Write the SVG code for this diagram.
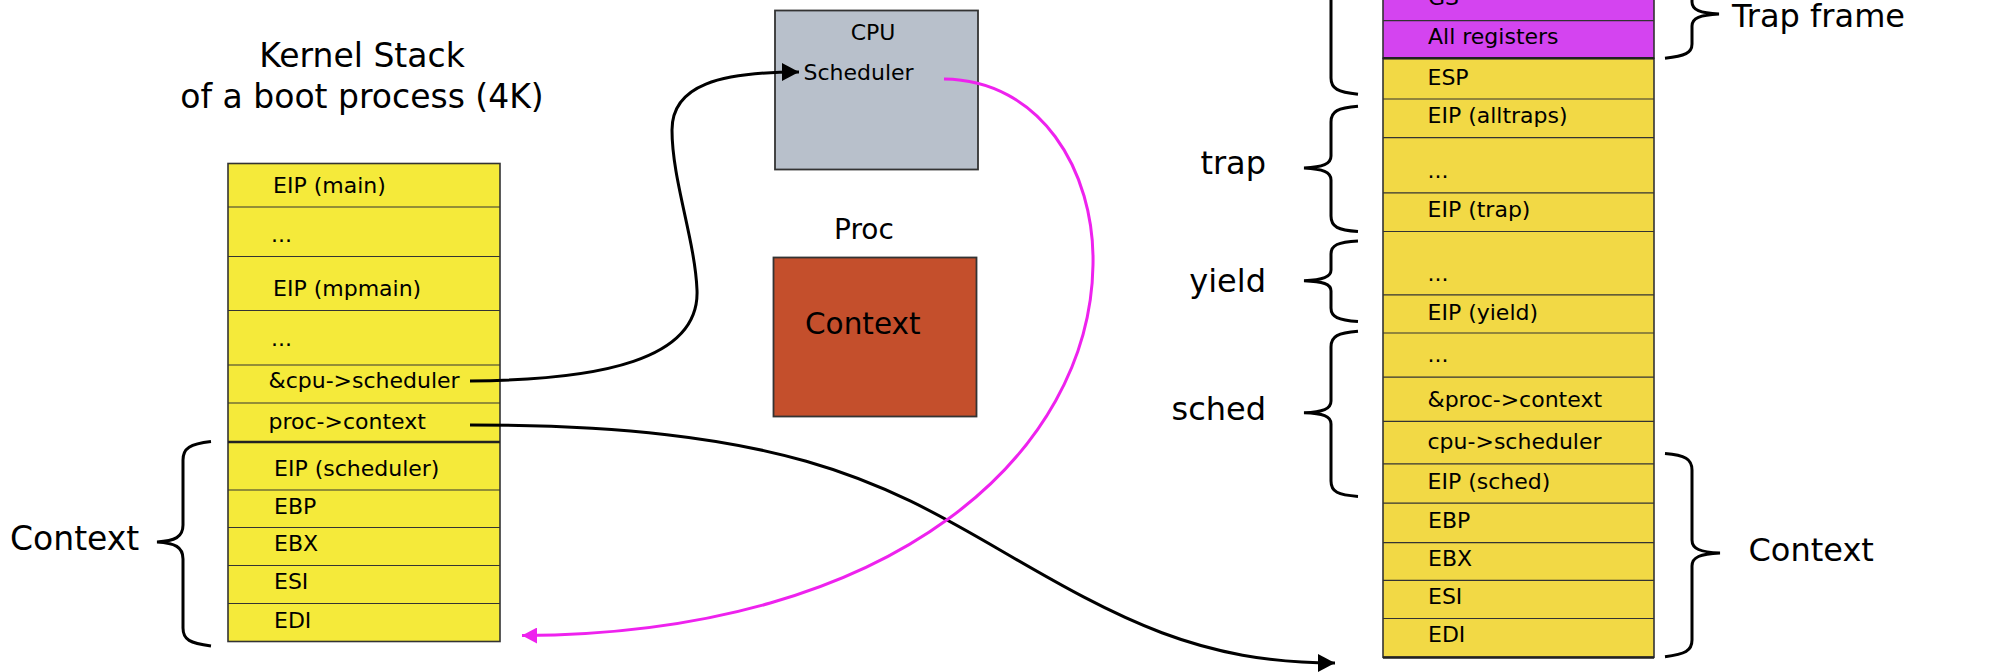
<svg xmlns="http://www.w3.org/2000/svg" width="2003" height="672" viewBox="0 0 2003 672">
<defs>
<style>
.t{font-family:"DejaVu Sans","Liberation Sans",sans-serif;fill:#000}
.s22{font-size:22px}
.big{font-size:33px}
.lab{font-size:32px}
.ys{fill:#f5ea3a;stroke:#333;stroke-width:1.6}
.yr{fill:#f2d945;stroke:#333;stroke-width:1.6}
.mg{fill:#d444f0;stroke:#333;stroke-width:1.6}
.row{stroke:#333;stroke-width:1.2}
.rowb{stroke:#222;stroke-width:2.4}
.br{fill:none;stroke:#000;stroke-width:3}
.con{fill:none;stroke:#000;stroke-width:3}
.conm{fill:none;stroke:#ee22ee;stroke-width:3}
</style>
<marker id="ab" markerUnits="userSpaceOnUse" markerWidth="18" markerHeight="18" refX="17" refY="9" orient="auto">
<path d="M0,0 L17,9 L0,18 z" fill="#000"/>
</marker>
<marker id="am" markerUnits="userSpaceOnUse" markerWidth="16" markerHeight="16" refX="15" refY="8" orient="auto">
<path d="M0,0 L15,8 L0,16 z" fill="#ee22ee"/>
</marker>
</defs>
<rect width="2003" height="672" fill="#fff"/>

<g id="title">
<text class="t big" x="362" y="67" text-anchor="middle">Kernel Stack</text>
<text class="t big" x="362" y="108" text-anchor="middle">of a boot process (4K)</text>
</g>

<g id="left-stack">
<rect class="ys" x="228" y="163.5" width="272" height="478"/>
<line class="row" x1="228" y1="207" x2="500" y2="207"/>
<line class="row" x1="228" y1="256.5" x2="500" y2="256.5"/>
<line class="row" x1="228" y1="310.5" x2="500" y2="310.5"/>
<line class="row" x1="228" y1="365" x2="500" y2="365"/>
<line class="row" x1="228" y1="403" x2="500" y2="403"/>
<line class="rowb" x1="228" y1="442" x2="500" y2="442"/>
<line class="row" x1="228" y1="490" x2="500" y2="490"/>
<line class="row" x1="228" y1="527.5" x2="500" y2="527.5"/>
<line class="row" x1="228" y1="565.5" x2="500" y2="565.5"/>
<line class="row" x1="228" y1="603.5" x2="500" y2="603.5"/>
<text class="t s22" x="273" y="193">EIP (main)</text>
<text class="t s22" x="271" y="242">...</text>
<text class="t s22" x="273" y="296">EIP (mpmain)</text>
<text class="t s22" x="271" y="346">...</text>
<text class="t s22" x="268.5" y="388">&amp;cpu-&gt;scheduler</text>
<text class="t s22" x="268.5" y="428.5">proc-&gt;context</text>
<text class="t s22" x="274" y="476">EIP (scheduler)</text>
<text class="t s22" x="274" y="513.5">EBP</text>
<text class="t s22" x="274" y="551">EBX</text>
<text class="t s22" x="274" y="589">ESI</text>
<text class="t s22" x="274" y="628">EDI</text>
</g>

<g id="left-context">
<path class="br" d="M211,441.5 C190,444 183,448 183,460 L183,525 C183,537 175,541 157,542 C175,543 183,547 183,559 L183,628 C183,640 190,643 211,646"/>
<text class="t big" x="10" y="550">Context</text>
</g>

<g id="cpu">
<rect x="775" y="10.5" width="203" height="159" fill="#b8c0cb" stroke="#333" stroke-width="1.8"/>
<text class="t s22" x="873" y="39.5" text-anchor="middle">CPU</text>
<text class="t s22" x="803.5" y="80">Scheduler</text>
</g>

<g id="proc">
<text class="t" font-size="28" x="864" y="239" text-anchor="middle">Proc</text>
<rect x="773.5" y="257.5" width="203" height="159" fill="#c44f2c" stroke="#333" stroke-width="1.8"/>
<text class="t" font-size="29.5" x="805" y="334">Context</text>
</g>

<g id="right-stack">
<rect class="mg" x="1383" y="-10" width="271" height="68.3"/>
<line class="row" x1="1383" y1="20.6" x2="1654" y2="20.6"/>
<rect class="yr" x="1383" y="58.3" width="271" height="599"/>
<line class="rowb" x1="1383" y1="58.3" x2="1654" y2="58.3"/>
<line class="row" x1="1383" y1="99" x2="1654" y2="99"/>
<line class="row" x1="1383" y1="137.6" x2="1654" y2="137.6"/>
<line class="row" x1="1383" y1="192.9" x2="1654" y2="192.9"/>
<line class="row" x1="1383" y1="231.5" x2="1654" y2="231.5"/>
<line class="row" x1="1383" y1="294.9" x2="1654" y2="294.9"/>
<line class="row" x1="1383" y1="333" x2="1654" y2="333"/>
<line class="row" x1="1383" y1="377.2" x2="1654" y2="377.2"/>
<line class="row" x1="1383" y1="421.3" x2="1654" y2="421.3"/>
<line class="row" x1="1383" y1="463.8" x2="1654" y2="463.8"/>
<line class="row" x1="1383" y1="503.2" x2="1654" y2="503.2"/>
<line class="row" x1="1383" y1="542.6" x2="1654" y2="542.6"/>
<line class="row" x1="1383" y1="580.4" x2="1654" y2="580.4"/>
<line class="row" x1="1383" y1="618.5" x2="1654" y2="618.5"/>
<line class="rowb" x1="1383" y1="657.5" x2="1654" y2="657.5"/>
<text class="t s22" x="1428" y="5">GS</text>
<text class="t s22" x="1428" y="44">All registers</text>
<text class="t s22" x="1427.5" y="84.5">ESP</text>
<text class="t s22" x="1427.5" y="123">EIP (alltraps)</text>
<text class="t s22" x="1427.5" y="178">...</text>
<text class="t s22" x="1427.5" y="216.5">EIP (trap)</text>
<text class="t s22" x="1427.5" y="281">...</text>
<text class="t s22" x="1427.5" y="319.5">EIP (yield)</text>
<text class="t s22" x="1427.5" y="362">...</text>
<text class="t s22" x="1427.5" y="407">&amp;proc-&gt;context</text>
<text class="t s22" x="1427.5" y="449">cpu-&gt;scheduler</text>
<text class="t s22" x="1427.5" y="488.5">EIP (sched)</text>
<text class="t s22" x="1428" y="528">EBP</text>
<text class="t s22" x="1428" y="566">EBX</text>
<text class="t s22" x="1428" y="603.5">ESI</text>
<text class="t s22" x="1428" y="642">EDI</text>
</g>

<g id="brace-top">
<path class="br" d="M1331,-10 L1331,78 C1331,89 1338,92 1358,94.3"/>
</g>
<g id="brace-trap">
<path class="br" d="M1358,106.3 C1338,108 1331,111 1331,122 L1331,156 C1331,164 1323,167 1304,168 C1323,169 1331,172 1331,180 L1331,216 C1331,227 1338,230 1358,231.5"/>
<text class="t lab" x="1266" y="174" text-anchor="end">trap</text>
</g>
<g id="brace-yield">
<path class="br" d="M1358,240.9 C1338,242 1331,245 1331,254 L1331,270 C1331,277 1323,280 1304,280.7 C1323,281.5 1331,284 1331,291 L1331,308 C1331,317 1338,320 1358,321.5"/>
<text class="t lab" x="1266" y="292" text-anchor="end">yield</text>
</g>
<g id="brace-sched">
<path class="br" d="M1358,331.3 C1338,333 1331,336 1331,347 L1331,401 C1331,409 1323,412 1304,412.8 C1323,413.5 1331,416 1331,424 L1331,481 C1331,492 1338,495 1358,496.4"/>
<text class="t lab" x="1266" y="420" text-anchor="end">sched</text>
</g>
<g id="brace-trapframe">
<path class="br" d="M1665,-28 C1685,-26 1692,-22 1692,-12 L1692,2 C1692,10 1700,13 1719,14 C1700,15 1692,18 1692,26 L1692,44 C1692,53 1685,56 1665,58.3"/>
<text class="t lab" x="1732" y="27">Trap frame</text>
</g>
<g id="brace-context-right">
<path class="br" d="M1665,453.5 C1685,455 1692,459 1692,470 L1692,540 C1692,549 1700,552 1720,553 C1700,554 1692,557 1692,566 L1692,640 C1692,651 1685,654 1665,656.7"/>
<text class="t lab" x="1748.5" y="561">Context</text>
</g>

<g id="connectors">
<path class="con" marker-end="url(#ab)" d="M470,381 C600,380 700,360 697,290 C695,240 672,180 672,130 C672,85 720,72 799,72"/>
<path class="con" marker-end="url(#ab)" d="M470,425 C780,425 880,480 1000,550 C1120,620 1200,663 1335,663"/>
<path class="conm" marker-end="url(#am)" d="M944,79 C1040,80 1095,170 1093,265 C1090,450 900,634 522,635.6"/>
</g>
</svg>
